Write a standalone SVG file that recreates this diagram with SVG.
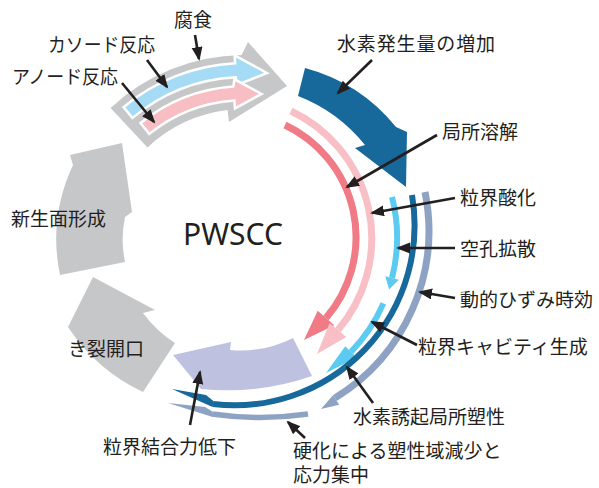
<svg xmlns="http://www.w3.org/2000/svg" width="599" height="488" viewBox="0 0 599 488">
<defs>
<marker id="ah" markerUnits="userSpaceOnUse" markerWidth="16" markerHeight="12" refX="12" refY="5.5" orient="auto"><path d="M0,0 L14,5.5 L0,11 Z" fill="#231f20"/></marker>
</defs>
<style>
text { font-family: "Noto Sans CJK JP", "Noto Sans", sans-serif; font-size: 19px; fill: #231f20; }
.title { font-family: "Noto Sans", "Open Sans", sans-serif; font-size: 30px; }
.tight { font-family: "Liberation Sans", "Noto Sans CJK JP", sans-serif; }
.ptr { stroke: #231f20; stroke-width: 2.6; fill: none; marker-end: url(#ah); }
.gray { fill: #c6c7c9; }
.wo { stroke: #ffffff; stroke-width: 2.5; stroke-linejoin: miter; }
.arc { fill: none; }
</style>
<rect width="599" height="488" fill="#ffffff"/>

<g id="corrosion">
<path class="gray" d="M110.6,107.9 A197,197 0 0 1 241.6,55 L248,42 L287,86 L229,122 L227.6,110.1 A143,143 0 0 0 147.5,147.4 Z"/>
<path class="wo" fill="#a6dbf5" d="M123.5,107.2 A189,189 0 0 1 235.1,63.3 L234.7,55.3 L267,73 L236.3,85.2 L235.8,77.2 A175,175 0 0 0 132.5,117.9 Z"/>
<path class="wo" fill="#f7bec4" d="M140.5,123 A166,166 0 0 1 233.4,86.4 L234.4,79.3 L261.6,93.9 L235,108.4 L234.4,100.4 A152,152 0 0 0 149.3,133.9 Z"/>
</g>

<g id="hydrogen-generation">
<path fill="#17689b" d="M305,68 A175,175 0 0 1 396,127 L407,132 L406,187 L355,148 L365,145 A160,160 0 0 0 298,96 Z"/>
</g>

<g id="local-dissolution">
<path class="arc" stroke="#f07a86" stroke-width="7" d="M285,125 A124,124 0 0 1 326,318"/>
<polygon fill="#f07a86" points="317.7,310.8 334.3,325.2 304,340"/>
</g>

<g id="gb-oxidation">
<path class="arc" stroke="#f8c0c6" stroke-width="7" d="M291,111 A141,141 0 0 1 338,330"/>
<polygon fill="#f8c0c6" points="329.6,322.9 346.4,337.1 317,354"/>
</g>

<g id="vacancy-diffusion">
<path class="arc" stroke="#5ccbf2" stroke-width="6" d="M392,197 A164,164 0 0 1 392,278"/>
<polygon fill="#5ccbf2" points="398.8,279.7 385.2,276.3 389.1,289.6"/>
</g>

<g id="gb-cavity">
<path class="arc" stroke="#5ccbf2" stroke-width="6" d="M383.4,303.4 A164,164 0 0 1 351,351.9"/>
<polygon fill="#5ccbf2" points="356.8,357.5 345.2,346.3 326,373"/>
</g>

<g id="help">
<path class="arc" stroke="#17689b" stroke-width="6" d="M412,195 A180,180 0 0 1 213,404"/>
<polygon fill="#17689b" points="213.4,401 206,395 172,389 212.6,407"/>
</g>

<g id="dsa">
<path class="arc" stroke="#8ea3c4" stroke-width="7" d="M425,192 A196,196 0 0 1 335,398"/>
<polygon fill="#8ea3c4" points="333.2,395 321,409 339.2,404.8 336.8,401"/>
</g>

<g id="hardening">
<path class="arc" stroke="#8ea3c4" stroke-width="5.5" d="M308,414 A335,335 0 0 1 212,414"/>
<polygon fill="#8ea3c4" points="212,411.3 205,407 168,403 212,416.7"/>
</g>

<g id="gb-cohesion">
<path fill="#bec2e0" d="M293,338 A115,115 0 0 1 230,350 L231,342 L173,355 L201,389 A260,260 0 0 0 312,376 Z"/>
</g>

<g id="crack-opening">
<path class="gray" d="M93,277 L68,327 A183,183 0 0 0 143,392 L175,343 A119,119 0 0 1 143,313 L155,310 Z"/>
</g>

<g id="new-surface">
<path class="gray" d="M60,275 A175,175 0 0 1 73,165 L70,155 L122,143 L132,212 L125,217 A110,110 0 0 0 125,262 Z"/>
</g>

<g id="connectors">
<line class="ptr" x1="195" y1="35" x2="199" y2="59"/>
<line class="ptr" x1="147" y1="60" x2="167" y2="87"/>
<line class="ptr" x1="122" y1="83" x2="154" y2="122"/>
<line class="ptr" x1="372" y1="60" x2="338" y2="93"/>
<line class="ptr" x1="437" y1="135" x2="347" y2="187"/>
<line class="ptr" x1="455" y1="198" x2="372" y2="213"/>
<line class="ptr" x1="455" y1="248" x2="398" y2="248"/>
<line class="ptr" x1="455" y1="298" x2="420" y2="292"/>
<line class="ptr" x1="417" y1="345" x2="372" y2="322"/>
<line class="ptr" x1="373" y1="403" x2="347" y2="367"/>
<line class="ptr" x1="305" y1="438" x2="288" y2="422"/>
<line class="ptr" x1="190" y1="425" x2="200" y2="372"/>
</g>

<g id="labels">
<text class="title" x="183" y="245">PWSCC</text>
<text x="174" y="27">腐食</text>
<text x="48" y="52" textLength="107" lengthAdjust="spacingAndGlyphs">カソード反応</text>
<text x="12" y="84" textLength="106" lengthAdjust="spacingAndGlyphs">アノード反応</text>
<text x="337" y="51" textLength="158">水素発生量の増加</text>
<text x="442" y="139">局所溶解</text>
<text x="460" y="205">粒界酸化</text>
<text x="460" y="256">空孔拡散</text>
<text x="460" y="307">動的ひずみ時効</text>
<text x="418" y="354">粒界キャビティ生成</text>
<text x="353" y="424">水素誘起局所塑性</text>
<text class="tight" x="293" y="458">硬化による塑性域減少と<tspan x="293" dy="24">応力集中</tspan></text>
<text x="103" y="454">粒界結合力低下</text>
<text x="68" y="356">き裂開口</text>
<text x="11" y="226">新生面形成</text>
</g>
</svg>
